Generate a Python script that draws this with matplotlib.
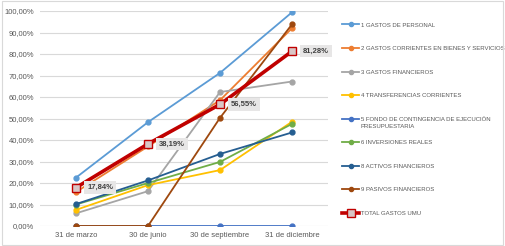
import numpy as np
import matplotlib.pyplot as plt
from matplotlib.patches import Rectangle

plt.rcParams['font.family'] = ['Liberation Sans', 'DejaVu Sans']

periodos = ['31 de marzo', '30 de junio', '30 de septiembre', '31 de diciembre']

series = ['1 GASTOS DE PERSONAL',
          '2 GASTOS CORRIENTES EN BIENES Y SERVICIOS',
          '3 GASTOS FINANCIEROS',
          '4 TRANSFERENCIAS CORRIENTES',
          '5 FONDO DE CONTINGENCIA DE EJECUCIÓN',
          '6 INVERSIONES REALES',
          '8 ACTIVOS FINANCIEROS',
          '9 PASIVOS FINANCIEROS']

personal = [22.5, 48.3, 71.2, 99.4]
corrientes = [15.8, 37.0, 58.5, 92.0]
financieros = [5.9, 16.2, 62.3, 67.2]
transferencias = [7.5, 19.0, 26.0, 48.5]
fondo = [0.0, 0.0, 0.0, 0.0]
inversiones = [10.0, 20.0, 29.8, 47.5]
activos = [10.2, 21.2, 33.5, 43.5]
pasivos = [0.0, 0.0, 50.3, 93.8]
total = [17.84, 38.19, 56.55, 81.28]

colores = ['#5B9BD5', '#ED7D31', '#A5A5A5', '#FFC000', '#4472C4',
           '#70AD47', '#255E91', '#9E480E']

valores = [personal, corrientes, financieros, transferencias, fondo,
           inversiones, activos, pasivos]

fig = plt.figure(figsize=(5.05, 2.46), dpi=100)
ax = fig.add_axes([40 / 505, 20 / 246, 288 / 505, 215 / 246])

x = np.arange(len(periodos))
# fondo first so pasivos draws on top at 0
orden = [4, 0, 1, 2, 3, 5, 6, 7]
handles = [None] * len(series)
for i in orden:
    h, = ax.plot(x, valores[i], color=colores[i], lw=1.3, marker='o', ms=3.5,
                 label=series[i], zorder=3)
    handles[i] = h

ht, = ax.plot(x, total, color='#C00000', lw=2.6, marker='s', ms=6,
              markerfacecolor='#D9C6C6', markeredgecolor='#C00000',
              markeredgewidth=1.0, label='TOTAL GASTOS UMU', zorder=5)

for xi, v in zip(x, total):
    ax.annotate(f'{v:.2f}%'.replace('.', ','), (xi, v), xytext=(8, 0),
                textcoords='offset points', ha='left', va='center',
                fontsize=5.5, fontweight='bold', color='#404040', zorder=6,
                bbox=dict(boxstyle='square,pad=0.35', fc='#E7E6E6', ec='none'))

ax.set_xlim(-0.5, 3.5)
ax.set_ylim(0, 100)
ax.set_yticks(np.arange(0, 101, 10))
ax.set_yticklabels([f'{t:.2f}%'.replace('.', ',') for t in np.arange(0, 101, 10)])
ax.set_xticks(x)
ax.set_xticklabels(periodos)
ax.grid(axis='y', color='#D9D9D9', lw=0.8)
ax.set_axisbelow(True)
for s in ax.spines.values():
    s.set_visible(False)
ax.tick_params(length=0, labelsize=5.5, labelcolor='#595959', pad=4)

leg = ax.legend(handles + [ht], series + ['TOTAL GASTOS UMU'],
                loc='upper left', bbox_to_anchor=(340 / 505, 1 - 20 / 246),
                bbox_transform=fig.transFigure, frameon=False, fontsize=4.3,
                labelspacing=3.07, handlelength=2.8, handletextpad=0.3,
                labelcolor='#595959', borderaxespad=0, markerscale=0.85)

# second line of the long legend entry
fig.canvas.draw()
t5 = leg.get_texts()[4]
bb = t5.get_window_extent().transformed(fig.transFigure.inverted())
fig.text(bb.x0, bb.y0 - 2 / 246, 'PRESUPUESTARIA', fontsize=4.3,
         color='#595959', ha='left', va='top')

fig.patches.append(Rectangle((0.003, 0.004), 0.994, 0.992, transform=fig.transFigure,
                             fill=False, ec='#D9D9D9', lw=0.8))

fig.savefig('out.png', dpi=100)
